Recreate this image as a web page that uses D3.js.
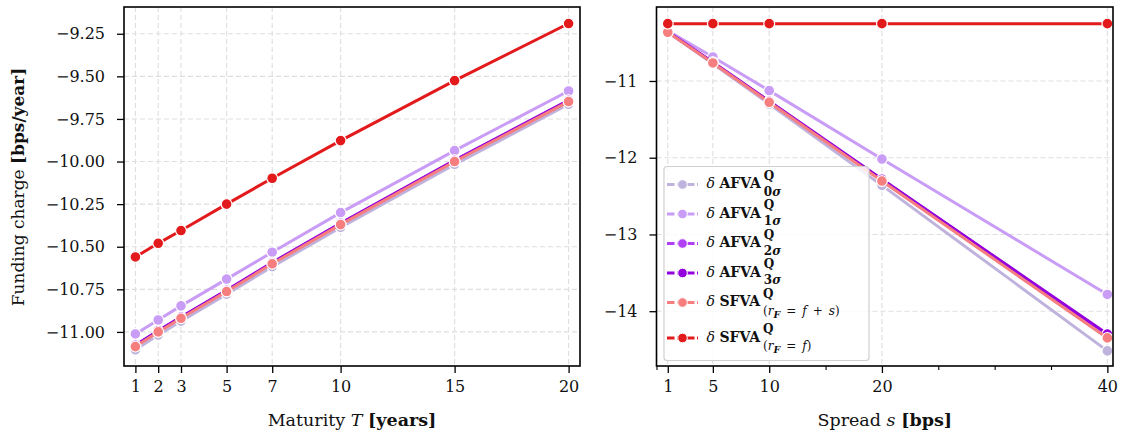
<!DOCTYPE html>
<html><head><meta charset="utf-8">
<script src="https://cdn.jsdelivr.net/npm/d3@7"></script>
<style>
body{margin:0;background:#fff}
svg text{font-family:"DejaVu Serif",serif;fill:#111}
</style>
</head><body>
<svg id="c" width="1124" height="438"></svg>
<script>
// ---------- data ----------
const maturities = [1, 2, 3, 5, 7, 10, 15, 20];
const spreads = [1, 5, 10, 20, 40];

const afva0_T  = [-11.105, -11.018, -10.937, -10.778, -10.617, -10.387, -10.017, -9.664];
const afva1_T  = [-11.012, -10.930, -10.847, -10.690, -10.532, -10.300, -9.936, -9.586];
const afva2_T  = [-11.079, -10.994, -10.914, -10.757, -10.594, -10.364, -9.994, -9.642];
const afva3_T  = [-11.078, -10.993, -10.913, -10.756, -10.593, -10.363, -9.993, -9.641];
const sfvaFS_T = [-11.086, -11.000, -10.920, -10.763, -10.600, -10.370, -10.000, -9.648];
const sfvaF_T  = [-10.560, -10.480, -10.405, -10.250, -10.098, -9.877, -9.525, -9.190];

const afva0_s  = [-10.362, -10.775, -11.300, -12.360, -14.517];
const afva1_s  = [-10.345, -10.687, -11.126, -12.017, -13.782];
const afva2_s  = [-10.360, -10.758, -11.266, -12.285, -14.305];
const afva3_s  = [-10.359, -10.757, -11.264, -12.280, -14.298];
const sfvaFS_s = [-10.365, -10.765, -11.278, -12.304, -14.348];
const sfvaF_s  = [-10.253, -10.253, -10.253, -10.253, -10.253];

const seriesColors = ["#bfb3dd", "#c99cf6", "#b13ff3", "#9400dd", "#f77e7e", "#e31a1c"];

const leftYTicks  = [-11.00, -10.75, -10.50, -10.25, -10.00, -9.75, -9.50, -9.25];
const rightYTicks = [-14, -13, -12, -11];
const leftXTicks  = [1, 2, 3, 5, 7, 10, 15, 20];
const rightXTicks = [1, 5, 10, 20, 40];
const rightXMinor = [0, 15, 25, 30, 35];

const legendMain = ["AFVA", "AFVA", "AFVA", "AFVA", "SFVA", "SFVA"];
const legendSub = [
  [["0","b"],["σ","bi"]],
  [["1","b"],["σ","bi"]],
  [["2","b"],["σ","bi"]],
  [["3","b"],["σ","bi"]],
  [["(",""],["r","i"],["F","bis"],["=","e"],["f","ie"],["+","e"],["s","ie"],[")",""]],
  [["(",""],["r","i"],["F","bis"],["=","e"],["f","ie"],[")",""]]
];

// ---------- drawing ----------
const svg = d3.select("#c");
const fmt2 = d3.format(".2f");
const fmt0 = d3.format("d");

function panel(P, xDom, yDom, xTicks, xMinor, yTicks, yFmt, xVals, series, xLabelParts) {
  const x = d3.scaleLinear().domain(xDom).range([P.x0, P.x1]);
  const y = d3.scaleLinear().domain(yDom).range([P.y1, P.y0]);
  const g = svg.append("g");

  const grid = g.append("g").attr("stroke", "#dedede").attr("stroke-width", 1.1).attr("stroke-dasharray", "5,3");
  xTicks.forEach(t => grid.append("line").attr("x1", x(t)).attr("x2", x(t)).attr("y1", P.y0).attr("y2", P.y1));
  yTicks.forEach(t => grid.append("line").attr("y1", y(t)).attr("y2", y(t)).attr("x1", P.x0).attr("x2", P.x1));

  const ax = g.append("g").attr("transform", `translate(0,${P.y1})`)
    .call(d3.axisBottom(x).tickValues(xTicks).tickFormat(fmt0).tickSize(7).tickPadding(8));
  if (xMinor) {
    g.append("g").attr("transform", `translate(0,${P.y1})`)
      .call(d3.axisBottom(x).tickValues(xMinor).tickFormat("").tickSize(4))
      .call(s => s.select(".domain").remove())
      .selectAll("line").attr("stroke-width", 1.1);
  }
  const ay = g.append("g").attr("transform", `translate(${P.x0},0)`)
    .call(d3.axisLeft(y).tickValues(yTicks).tickFormat(yFmt).tickSize(7).tickPadding(12));
  [ax, ay].forEach(a => {
    a.select(".domain").remove();
    a.selectAll(".tick line").attr("stroke", "#000").attr("stroke-width", 1.3);
    a.selectAll(".tick text").attr("font-size", 16).attr("font-family", "DejaVu Serif").attr("fill", "#111");
  });

  const line = d3.line().x((d, i) => x(xVals[i])).y(d => y(d));
  series.forEach((vals, k) => {
    g.append("path").attr("d", line(vals)).attr("fill", "none")
      .attr("stroke", seriesColors[k]).attr("stroke-width", 3).attr("stroke-linejoin", "round");
    g.selectAll(null).data(vals).enter().append("circle")
      .attr("cx", (d, i) => x(xVals[i])).attr("cy", d => y(d)).attr("r", 5.4)
      .attr("fill", seriesColors[k]).attr("stroke", "#fff").attr("stroke-width", 1.2);
  });

  g.append("rect").attr("x", P.x0).attr("y", P.y0).attr("width", P.x1 - P.x0).attr("height", P.y1 - P.y0)
    .attr("fill", "none").attr("stroke", "#000").attr("stroke-width", 1.6);

  const t = g.append("text").attr("x", (P.x0 + P.x1) / 2).attr("y", 426).attr("text-anchor", "middle").attr("font-size", 17.5);
  xLabelParts.forEach(p => {
    const ts = t.append("tspan").text(p[0]);
    if (p[1] === "i") ts.attr("font-style", "italic");
    if (p[1] === "b") ts.attr("font-weight", "bold");
  });
  return {x, y, g};
}

const L = {x0: 124, x1: 580, y0: 7, y1: 366};
const R = {x0: 656.5, x1: 1113, y0: 7, y1: 366};

panel(L, [0.5, 20.5], [-11.2, -9.093], leftXTicks, null, leftYTicks, fmt2, maturities,
  [afva0_T, afva1_T, afva2_T, afva3_T, sfvaFS_T, sfvaF_T],
  [["Maturity ", ""], ["T", "i"], [" ", ""], ["[years]", "b"]]);

panel(R, [0, 40.5], [-14.714, -10.036], rightXTicks, rightXMinor, rightYTicks, fmt0, spreads,
  [afva0_s, afva1_s, afva2_s, afva3_s, sfvaFS_s, sfvaF_s],
  [["Spread ", ""], ["s", "i"], [" ", ""], ["[bps]", "b"]]);

const yl = svg.append("text").attr("transform", "translate(24,187) rotate(-90)")
  .attr("text-anchor", "middle").attr("font-size", 17);
yl.append("tspan").text("Funding charge ");
yl.append("tspan").attr("font-weight", "bold").text("[bps/year]");

// legend
const lg = svg.append("g");
lg.append("rect").attr("x", 664).attr("y", 166.5).attr("width", 205).attr("height", 194).attr("rx", 3)
  .attr("fill", "#fff").attr("fill-opacity", 0.8).attr("stroke", "#d0d0d0").attr("stroke-width", 1.2);
const rowY = legendMain.map((d, i) => 184.5 + i * 29.5 + (i === 5 ? 6 : 0));
legendMain.forEach((m, i) => {
  const yy = rowY[i];
  lg.append("line").attr("x1", 667).attr("x2", 698).attr("y1", yy).attr("y2", yy)
    .attr("stroke", seriesColors[i]).attr("stroke-width", 3).attr("stroke-dasharray", "7.5,2.5");
  lg.append("circle").attr("cx", 682.5).attr("cy", yy).attr("r", 4.8).attr("fill", seriesColors[i])
    .attr("stroke", "#fff").attr("stroke-width", 1);
  const tx = lg.append("text").attr("x", 706.5).attr("y", yy + 3.5).attr("font-size", 14);
  tx.append("tspan").attr("font-style", "italic").text("δ");
  tx.append("tspan").text(" ");
  tx.append("tspan").attr("font-weight", "bold").text(m);
  const w = tx.node().getComputedTextLength();
  const sx = 706.5 + w + 3;
  lg.append("text").attr("x", sx).attr("y", yy - 5).attr("font-size", 12).attr("font-weight", "bold").text("Q");
  const st = lg.append("text").attr("x", sx).attr("y", yy + (i >= 4 ? 12 : 11)).attr("font-size", 12);
  let lowered = false;
  legendSub[i].forEach(p => {
    const ts = st.append("tspan").text(p[0]);
    const f = p[1];
    if (f.includes("b")) ts.attr("font-weight", "bold");
    if (f.includes("i")) ts.attr("font-style", "italic");
    if (f.includes("s")) { ts.attr("font-size", 9.5).attr("dy", 3); lowered = true; }
    else if (lowered) { ts.attr("dy", -3); lowered = false; }
    if (f.includes("e")) ts.attr("dx", 6);
  });
});
</script>
</body></html>
